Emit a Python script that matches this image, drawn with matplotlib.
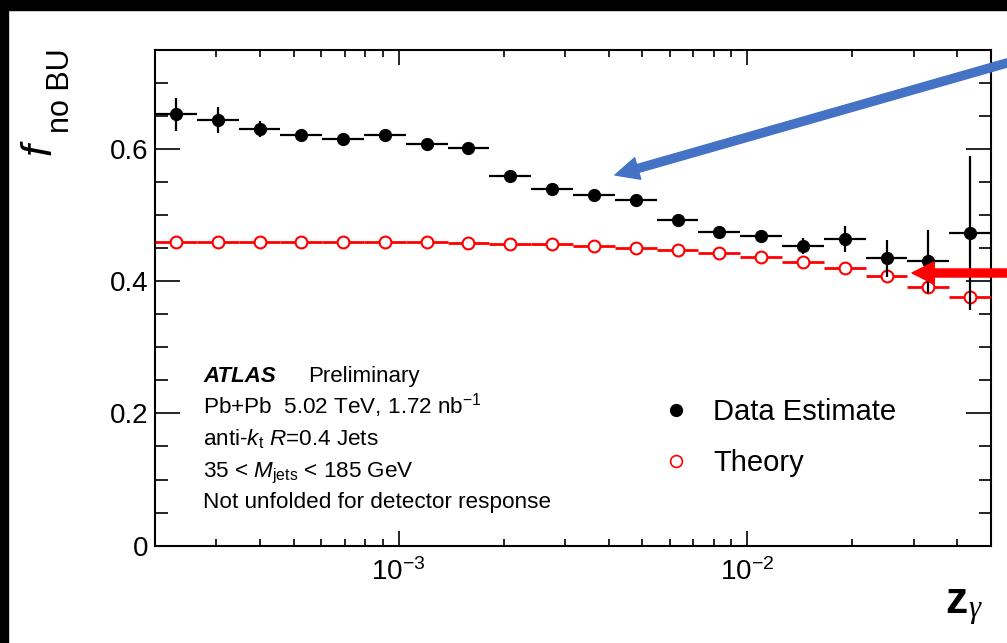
import numpy as np
import matplotlib
matplotlib.use('Agg')
import matplotlib.pyplot as plt
from matplotlib.patches import Rectangle, FancyArrowPatch
from matplotlib.lines import Line2D
from matplotlib.ticker import LogLocator, NullFormatter, MultipleLocator

# ---------------- data ----------------
bin_edges = [2.0e-4, 2.636e-4, 3.474e-4, 4.579e-4, 6.034e-4, 7.953e-4,
             1.048e-3, 1.381e-3, 1.821e-3, 2.399e-3, 3.162e-3, 4.168e-3,
             5.493e-3, 7.239e-3, 9.541e-3, 1.257e-2, 1.657e-2, 2.184e-2,
             2.879e-2, 3.794e-2, 5.0e-2]
data_values = [0.653, 0.644, 0.631, 0.622, 0.615, 0.621, 0.607, 0.601, 0.559, 0.539,
               0.530, 0.523, 0.492, 0.475, 0.469, 0.454, 0.464, 0.435, 0.430, 0.473]
data_errors = [0.025, 0.020, 0.012, 0.007, 0.005, 0.005, 0.005, 0.005, 0.005, 0.005,
               0.005, 0.006, 0.006, 0.007, 0.008, 0.012, 0.019, 0.028, 0.048, 0.117]
theory_values = [0.460, 0.460, 0.460, 0.460, 0.460, 0.460, 0.459, 0.458, 0.457, 0.456,
                 0.454, 0.451, 0.448, 0.443, 0.437, 0.429, 0.420, 0.4075, 0.392, 0.376]
ytick_values = [0, 0.2, 0.4, 0.6]
ytick_labels = ['0', '0.2', '0.4', '0.6']
series_labels = ['Data Estimate', 'Theory']
info_lines = [r'Pb+Pb  5.02 TeV, 1.72 nb$^{-1}$',
              r'anti-$k_{\mathrm{t}}$ $R$=0.4 Jets',
              r'35 < $M_{\mathrm{jets}}$ < 185 GeV',
              'Not unfolded for detector response']

# ---------------- style ----------------
plt.rcParams['font.family'] = ['Liberation Sans', 'DejaVu Sans']
plt.rcParams['mathtext.fontset'] = 'custom'
plt.rcParams['mathtext.rm'] = 'Liberation Sans'
plt.rcParams['mathtext.it'] = 'Liberation Sans:italic'
plt.rcParams['mathtext.bf'] = 'Liberation Sans:bold'

W, H = 1007, 643
fig = plt.figure(figsize=(W / 100, H / 100), dpi=100)
fig.patch.set_facecolor('white')


def fx(x):
    return x / W


def fy(y):
    return 1 - y / H


ax = fig.add_axes([fx(155), fy(545.6), 836 / W, 495.6 / H])

edges = np.array(bin_edges)
centers = np.sqrt(edges[:-1] * edges[1:])
xlo = centers - edges[:-1]
xhi = edges[1:] - centers

ax.errorbar(centers, theory_values, xerr=[xlo, xhi], fmt='o', color='#ff0000',
            mfc='white', mec='#ff0000', ms=8.5, mew=1.5, elinewidth=2.0,
            capsize=0, zorder=3)
ax.errorbar(centers, data_values, yerr=data_errors, xerr=[xlo, xhi], fmt='o',
            color='black', ms=8.5, elinewidth=1.6, capsize=0, zorder=4)

ax.set_xscale('log')
ax.set_xlim(bin_edges[0], bin_edges[-1])
ax.set_ylim(0, 0.75)
ax.xaxis.set_major_locator(LogLocator(base=10, numticks=10))
ax.xaxis.set_minor_locator(LogLocator(base=10, subs=np.arange(2, 10), numticks=20))
ax.xaxis.set_minor_formatter(NullFormatter())
ax.set_yticks(ytick_values, ytick_labels)
ax.yaxis.set_minor_locator(MultipleLocator(0.05))
ax.tick_params(which='both', direction='in', top=True, right=True, colors='black')
ax.tick_params(axis='x', which='major', length=10.5, width=1.2, pad=9, labelsize=20)
ax.tick_params(axis='x', which='minor', length=5, width=1.2)
ax.tick_params(axis='y', which='major', length=18, width=1.2, pad=5, labelsize=20)
ax.tick_params(axis='y', which='minor', length=9, width=1.2)
for s in ax.spines.values():
    s.set_linewidth(1.5)

# legend
handles = [Line2D([], [], marker='o', ls='none', color='black', ms=8.5),
           Line2D([], [], marker='o', ls='none', mfc='white', mec='#ff0000', mew=1.2, ms=8.5)]
ax.legend(handles, series_labels, loc='upper left',
          bbox_to_anchor=(fx(662), fy(398)), bbox_transform=fig.transFigure,
          frameon=False, fontsize=21, handlelength=0.95, handletextpad=0.8,
          labelspacing=0.78, borderpad=0, borderaxespad=0)

# ATLAS label block
fig.text(fx(203), fy(382), 'ATLAS', fontsize=16, fontweight='bold',
         fontstyle='italic', va='baseline')
fig.text(fx(308), fy(382), 'Preliminary', fontsize=16, va='baseline')
for yy, line in zip([413, 445, 477, 508], info_lines):
    fig.text(fx(203), fy(yy), line, fontsize=16.2, va='baseline')

# axis titles
fig.text(fx(40), fy(155), 'f', fontsize=31, fontstyle='italic', rotation=90,
         ha='center', va='bottom')
fig.text(fx(61.4), fy(133), 'no BU', fontsize=22, rotation=90,
         ha='center', va='bottom')
fig.text(fx(945), fy(613), 'z', fontsize=32, fontweight='bold', va='baseline')
fig.text(fx(968), fy(617), '\u03b3', fontsize=22, fontstyle='italic',
         family='Liberation Serif', va='baseline')

# black slide borders
fig.patches.append(Rectangle((0, fy(10)), 1, 10 / H, transform=fig.transFigure,
                             color='black', zorder=10))
fig.patches.append(Rectangle((0, 0), 8 / W, 1, transform=fig.transFigure,
                             color='black', zorder=10))

# annotation arrows (pixel coords, origin bottom-left)
blue = FancyArrowPatch((1050, H - 50.7), (615, H - 175),
                       arrowstyle='simple,head_length=17,head_width=16,tail_width=5.8',
                       mutation_scale=1, color='#4472C4', shrinkA=0, shrinkB=0,
                       transform=None, zorder=20)
fig.patches.append(blue)
red = FancyArrowPatch((1050, H - 273), (912, H - 273),
                      arrowstyle='simple,head_length=16,head_width=16,tail_width=5.8',
                      mutation_scale=1, color='#ff0000', shrinkA=0, shrinkB=0,
                      transform=None, zorder=20)
fig.patches.append(red)

fig.savefig('out.png', dpi=100)
